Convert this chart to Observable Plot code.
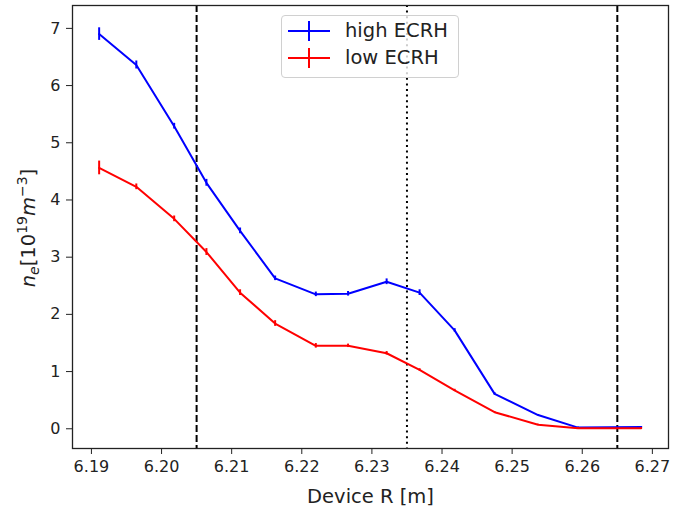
<!DOCTYPE html>
<html>
<head>
<meta charset="utf-8">
<script src="https://cdn.jsdelivr.net/npm/d3@7"></script>
<script src="https://cdn.jsdelivr.net/npm/@observablehq/plot@0.6"></script>
<style>
  html, body { margin: 0; padding: 0; background: #fff; }
  #wrap { position: relative; width: 683px; height: 506px; font-family: "DejaVu Sans", sans-serif; }
  #legend { position: absolute; left: 281px; top: 15px; width: 178px; height: 63px;
    border: 1px solid #d0d0d0; border-radius: 4px; background: rgba(255,255,255,0.8); box-sizing: border-box; }
  .lg-row { position: absolute; left: 5px; height: 24px; font-size: 19.5px; color: #222; white-space: nowrap; }
  .lg-row svg { position: absolute; left: 0; top: 0; }
  .lg-row span { position: absolute; left: 58px; top: -1px; line-height: 24px; }
</style>
</head>
<body>
<div id="wrap">
  <div id="chart"></div>
  <div id="legend"></div>
</div>
<script>
// Device major radius R [m]
const R = [6.1911, 6.1964, 6.2018, 6.2064, 6.2112, 6.2162, 6.2220, 6.2266, 6.2321, 6.2368, 6.2418, 6.2475, 6.2537, 6.2594, 6.2684];
// high ECRH density and errors [1e19 m^-3]
const highNe  = [6.90, 6.36, 5.29, 4.30, 3.46, 2.63, 2.35, 2.36, 2.57, 2.38, 1.72, 0.61, 0.24, 0.02, 0.03];
const highErr = [0.11, 0.07, 0.05, 0.06, 0.05, 0.04, 0.04, 0.04, 0.05, 0.05, 0.03, 0.02, 0.01, 0.01, 0.01];
// low ECRH density and errors
const lowNe   = [4.56, 4.23, 3.67, 3.09, 2.38, 1.84, 1.45, 1.45, 1.32, 1.03, 0.67, 0.29, 0.07, 0.01, 0.01];
const lowErr  = [0.12, 0.05, 0.05, 0.06, 0.05, 0.05, 0.04, 0.03, 0.03, 0.02, 0.02, 0.01, 0.01, 0.01, 0.01];
// reference lines
const dashedR = [6.205, 6.265];
const dottedR = [6.235];
// ticks
const xTicks = [6.19, 6.20, 6.21, 6.22, 6.23, 6.24, 6.25, 6.26, 6.27];
const yTicks = [0, 1, 2, 3, 4, 5, 6, 7];
const seriesNames = ["high ECRH", "low ECRH"];
const seriesColors = ["#0000ff", "#ff0000"];

const high = R.map((r, i) => ({r, ne: highNe[i], err: highErr[i]}));
const low  = R.map((r, i) => ({r, ne: lowNe[i], err: lowErr[i]}));

const plot = Plot.plot({
  width: 683, height: 506,
  marginLeft: 72, marginRight: 15, marginTop: 5, marginBottom: 58,
  style: {fontFamily: "DejaVu Sans, sans-serif", fontSize: "16px", color: "#222", background: "#fff"},
  x: {domain: [6.1873, 6.2723]},
  y: {domain: [-0.345, 7.40]},
  marks: [
    Plot.ruleX(dashedR, {stroke: "#000", strokeWidth: 2, strokeDasharray: "7,3"}),
    Plot.ruleX(dottedR, {stroke: "#000", strokeWidth: 2, strokeDasharray: "2,3.6"}),
    Plot.line(high, {x: "r", y: "ne", stroke: seriesColors[0], strokeWidth: 2}),
    Plot.ruleX(high, {x: "r", y1: d => d.ne - d.err, y2: d => d.ne + d.err, stroke: seriesColors[0], strokeWidth: 2}),
    Plot.line(low, {x: "r", y: "ne", stroke: seriesColors[1], strokeWidth: 2}),
    Plot.ruleX(low, {x: "r", y1: d => d.ne - d.err, y2: d => d.ne + d.err, stroke: seriesColors[1], strokeWidth: 2}),
    Plot.frame({stroke: "#222", strokeWidth: 1.3}),
    Plot.axisX({ticks: xTicks, tickFormat: ".2f", tickSize: 6, tickPadding: 6, fontSize: 16,
      label: null}),
    Plot.axisX({ticks: [], tickSize: 0, fontSize: 19.5,
      label: "Device R [m]", labelAnchor: "center", labelArrow: "none", labelOffset: 54}),
    Plot.axisY({ticks: yTicks, tickFormat: "d", tickSize: 6, tickPadding: 6, fontSize: 16, label: null})
  ]
});
document.getElementById("chart").appendChild(plot);

// y-axis label with math formatting
const svg = d3.select(plot);
const yl = svg.append("text")
  .attr("transform", "translate(35,228) rotate(-90)")
  .attr("text-anchor", "middle")
  .attr("font-size", 19.5)
  .attr("font-family", "DejaVu Sans, sans-serif")
  .attr("fill", "#222");
yl.append("tspan").attr("font-style", "italic").text("n");
yl.append("tspan").attr("font-style", "italic").attr("font-size", 14).attr("dy", 4).text("e");
yl.append("tspan").attr("dy", -4).text("[10");
yl.append("tspan").attr("font-size", 14).attr("dy", -8).text("19");
yl.append("tspan").attr("font-style", "italic").attr("dy", 8).text("m");
yl.append("tspan").attr("font-size", 14).attr("dy", -8).text("−3");
yl.append("tspan").attr("dy", 8).text("]");

// legend
const legend = document.getElementById("legend");
seriesNames.forEach((name, i) => {
  const row = document.createElement("div");
  row.className = "lg-row";
  row.style.top = (4 + i * 27) + "px";
  row.innerHTML = `<svg width="44" height="24"><line x1="1" x2="43" y1="11" y2="11" stroke="${seriesColors[i]}" stroke-width="2"/><line x1="22" x2="22" y1="1" y2="21" stroke="${seriesColors[i]}" stroke-width="2"/></svg><span>${name}</span>`;
  legend.appendChild(row);
});
</script>
</body>
</html>
